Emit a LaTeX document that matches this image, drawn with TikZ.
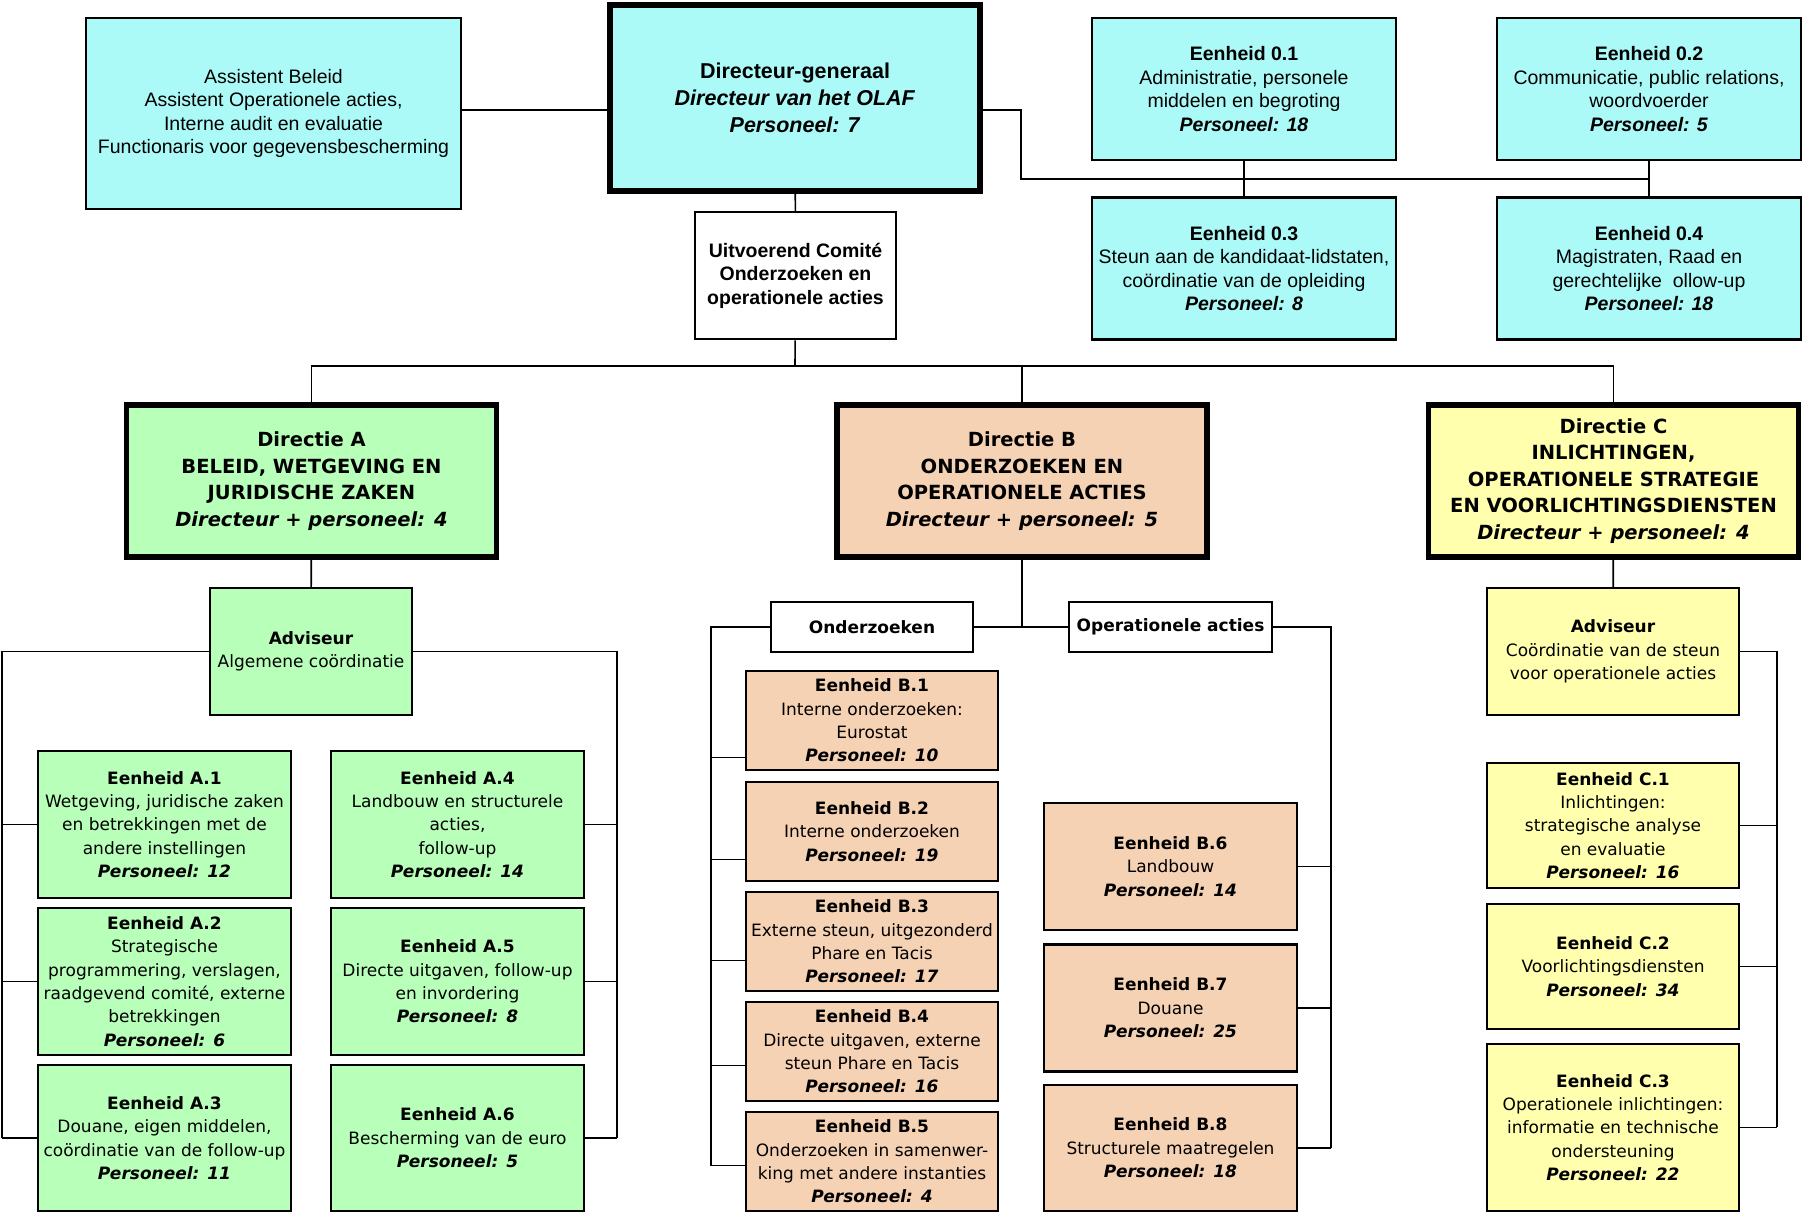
\documentclass[tikz,border=0pt]{standalone}
\usepackage{fontspec}
\setmainfont{Liberation Sans}
\newfontfamily\widesans{DejaVu Sans}
\usepackage{tikz}
\newcommand\orgtop{\fontsize{19.5}{23.5}\selectfont}
\newcommand\orgdg{\fontsize{21.5}{26.7}\selectfont\bfseries}
\newcommand\orglow{\widesans\fontsize{17}{23.4}\selectfont}
\newcommand\orgdir{\widesans\fontsize{19.5}{26.5}\selectfont\bfseries}
\newcommand\pers[1]{\textbf{\textit{Personeel: #1}}}
\definecolor{olafcyan}{RGB}{172,250,248}
\definecolor{olafgreen}{RGB}{184,255,186}
\definecolor{olafpeach}{RGB}{246,210,180}
\definecolor{olafyellow}{RGB}{255,255,174}
\tikzset{
  vak/.style={draw, line width=2.5pt, align=center, inner sep=2pt},
  staf/.style={vak, fill=olafcyan, font=\orgtop, minimum width=304pt, minimum height=142pt},
  kop/.style={vak, line width=5.5pt, minimum width=370pt, minimum height=152pt},
  directie/.style={kop, font=\orgdir},
  eenheid/.style={vak, font=\orglow, minimum width=253pt},
  label/.style={vak, fill=white, font=\orglow\bfseries, minimum width=202pt, minimum height=50pt},
  lijn/.style={line width=1.6pt},
}

\begin{document}
\begin{tikzpicture}[x=1pt, y=-1pt]
  \useasboundingbox (0,0) rectangle (1803,1213);
  \node[staf, minimum width=375pt, minimum height=191pt] (assist) at (273.5,113.5)
    {Assistent Beleid\\Assistent Operationele acties,\\Interne audit en evaluatie\\Functionaris voor gegevensbescherming};
  \node[kop, fill=olafcyan, font=\orgdg, minimum height=186pt] (dg) at (795,98)
    {Directeur-generaal\\\textit{Directeur van het OLAF}\\\textit{Personeel: 7}};
  \node[vak, fill=white, font=\orgtop\bfseries, minimum width=201pt, minimum height=127pt] (comite) at (795.5,275.5)
    {Uitvoerend Comité\\Onderzoeken en\\operationele acties};
  \node[staf] (e01) at (1244,89)
    {\textbf{Eenheid 0.1}\\Administratie, personele\\middelen en begroting\\\pers{18}};
  \node[staf] (e02) at (1649,89)
    {\textbf{Eenheid 0.2}\\Communicatie, public relations,\\woordvoerder\\\pers{5}};
  \node[staf] (e03) at (1244,268.5)
    {\textbf{Eenheid 0.3}\\Steun aan de kandidaat-lidstaten,\\coördinatie van de opleiding\\\pers{8}};
  \node[staf] (e04) at (1649,268.5)
    {\textbf{Eenheid 0.4}\\Magistraten, Raad en\\gerechtelijke\ \ ollow-up\\\pers{18}};

  \node[directie, fill=olafgreen] (dirA) at (311.5,481)
    {Directie A\\BELEID, WETGEVING EN\\JURIDISCHE ZAKEN\\\textit{Directeur + personeel: 4}};
  \node[directie, fill=olafpeach] (dirB) at (1022,481)
    {Directie B\\ONDERZOEKEN EN\\OPERATIONELE ACTIES\\\textit{Directeur + personeel: 5}};
  \node[directie, fill=olafyellow] (dirC) at (1613.5,481)
    {Directie C\\INLICHTINGEN,\\OPERATIONELE STRATEGIE\\EN VOORLICHTINGSDIENSTEN\\\textit{Directeur + personeel: 4}};

  \node[eenheid, fill=olafgreen, minimum width=202pt, minimum height=127pt] (advA) at (311,651.5)
    {\textbf{Adviseur}\\Algemene coördinatie};
  \node[eenheid, fill=olafgreen, minimum height=147pt] (a1) at (164.5,824.5)
    {\textbf{Eenheid A.1}\\Wetgeving, juridische zaken\\en betrekkingen met de\\andere instellingen\\\pers{12}};
  \node[eenheid, fill=olafgreen, minimum height=147pt] (a2) at (164.5,981.5)
    {\textbf{Eenheid A.2}\\Strategische\\programmering, verslagen,\\raadgevend comité, externe\\betrekkingen\\\pers{6}};
  \node[eenheid, fill=olafgreen, minimum height=146pt] (a3) at (164.5,1138)
    {\textbf{Eenheid A.3}\\Douane, eigen middelen,\\coördinatie van de follow-up\\\pers{11}};
  \node[eenheid, fill=olafgreen, minimum height=147pt] (a4) at (457.5,824.5)
    {\textbf{Eenheid A.4}\\Landbouw en structurele\\acties,\\follow-up\\\pers{14}};
  \node[eenheid, fill=olafgreen, minimum height=147pt] (a5) at (457.5,981.5)
    {\textbf{Eenheid A.5}\\Directe uitgaven, follow-up\\en invordering\\\pers{8}};
  \node[eenheid, fill=olafgreen, minimum height=146pt] (a6) at (457.5,1138)
    {\textbf{Eenheid A.6}\\Bescherming van de euro\\\pers{5}};

  \node[label] (onderz) at (872,627) {Onderzoeken};
  \node[label, minimum width=203pt] (opact) at (1170.5,627) {Operationele acties};
  \node[eenheid, fill=olafpeach, minimum width=252pt, minimum height=99pt] (b1) at (872,720.5)
    {\textbf{Eenheid B.1}\\Interne onderzoeken:\\Eurostat\\\pers{10}};
  \node[eenheid, fill=olafpeach, minimum width=252pt, minimum height=99pt] (b2) at (872,831.5)
    {\textbf{Eenheid B.2}\\Interne onderzoeken\\\pers{19}};
  \node[eenheid, fill=olafpeach, minimum width=252pt, minimum height=99pt] (b3) at (872,941.5)
    {\textbf{Eenheid B.3}\\Externe steun, uitgezonderd\\Phare en Tacis\\\pers{17}};
  \node[eenheid, fill=olafpeach, minimum width=252pt, minimum height=99pt] (b4) at (872,1051.5)
    {\textbf{Eenheid B.4}\\Directe uitgaven, externe\\steun Phare en Tacis\\\pers{16}};
  \node[eenheid, fill=olafpeach, minimum width=252pt, minimum height=99pt] (b5) at (872,1161.5)
    {\textbf{Eenheid B.5}\\Onderzoeken in samenwer-\\king met andere instanties\\\pers{4}};
  \node[eenheid, fill=olafpeach, minimum height=127pt] (b6) at (1170.5,866.5)
    {\textbf{Eenheid B.6}\\Landbouw\\\pers{14}};
  \node[eenheid, fill=olafpeach, minimum height=127pt] (b7) at (1170.5,1008)
    {\textbf{Eenheid B.7}\\Douane\\\pers{25}};
  \node[eenheid, fill=olafpeach, minimum height=126pt] (b8) at (1170.5,1148)
    {\textbf{Eenheid B.8}\\Structurele maatregelen\\\pers{18}};

  \node[eenheid, fill=olafyellow, minimum width=252pt, minimum height=127pt] (advC) at (1613,651.5)
    {\textbf{Adviseur}\\Coördinatie van de steun\\voor operationele acties};
  \node[eenheid, fill=olafyellow, minimum width=252pt, minimum height=125pt] (c1) at (1613,825.5)
    {\textbf{Eenheid C.1}\\Inlichtingen:\\strategische analyse\\en evaluatie\\\pers{16}};
  \node[eenheid, fill=olafyellow, minimum width=252pt, minimum height=125pt] (c2) at (1613,966.5)
    {\textbf{Eenheid C.2}\\Voorlichtingsdiensten\\\pers{34}};
  \node[eenheid, fill=olafyellow, minimum width=252pt, minimum height=167pt] (c3) at (1613,1127.5)
    {\textbf{Eenheid C.3}\\Operationele inlichtingen:\\informatie en technische\\ondersteuning\\\pers{22}};

  \coordinate (rbus) at (1021,179);
  \coordinate (dirbus) at (795,366);
  \coordinate (aL) at (2,1138);
  \coordinate (aR) at (617,1138);
  \coordinate (bL) at (711,1166);
  \coordinate (bR) at (1331,1148);
  \coordinate (cR) at (1777,1127);

  \draw[lijn] ([yshift=-12pt]dg.west) -- ([yshift=-12pt]dg.west -| assist.east);
  \draw[lijn] ([yshift=-12pt]dg.east) -| (rbus) -- (rbus -| e02.south);
  \draw[lijn] (e01) -- (e03);
  \draw[lijn] (e02) -- (e04);
  \draw[lijn] (dg) -- (comite);
  \draw[lijn] (comite) -- (dirbus);
  \draw[lijn] (dirA) |- (dirbus) -| (dirC);
  \draw[lijn] (dirB) -- (dirB |- dirbus);

  \draw[lijn] (dirA) -- (advA);
  \draw[lijn] (advA.west) -| (aL);
  \draw[lijn] (advA.east) -| (aR);
  \foreach \n in {a1,a2,a3} \draw[lijn] (\n.west) -- (\n.west -| aL);
  \foreach \n in {a4,a5,a6} \draw[lijn] (\n.east) -- (\n.east -| aR);

  \draw[lijn] (dirB) -- (dirB |- onderz);
  \draw[lijn] (onderz) -- (opact);
  \draw[lijn] (onderz.west) -| (bL);
  \draw[lijn] (opact.east) -| (bR);
  \foreach \n/\s in {b1/37,b2/28,b3/19,b4/14,b5/4}
    \draw[lijn] ([yshift=-\s pt]\n.west) -- ([yshift=-\s pt]\n.west -| bL);
  \foreach \n in {b6,b7,b8} \draw[lijn] (\n.east) -- (\n.east -| bR);

  \draw[lijn] (dirC) -- (advC);
  \draw[lijn] (advC.east) -| (cR);
  \foreach \n in {c1,c2,c3} \draw[lijn] (\n.east) -- (\n.east -| cR);
\end{tikzpicture}
\end{document}
